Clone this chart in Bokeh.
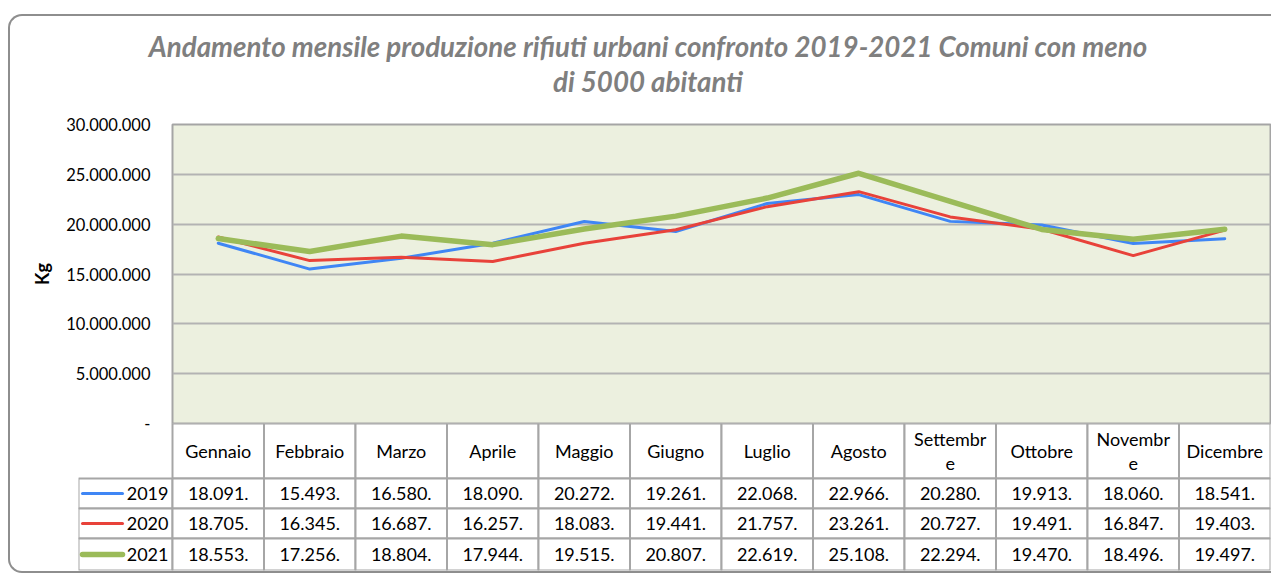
from bokeh.plotting import figure
from bokeh.models import Range1d, FixedTicker, Div
from bokeh.layouts import column
from bokeh.core.properties import value
from bokeh.embed import file_html
from bokeh.resources import INLINE

# ---------------- data ----------------
months = ["Gennaio", "Febbraio", "Marzo", "Aprile", "Maggio", "Giugno",
          "Luglio", "Agosto", "Settembre", "Ottobre", "Novembre", "Dicembre"]
month_labels = ["Gennaio", "Febbraio", "Marzo", "Aprile", "Maggio", "Giugno",
                "Luglio", "Agosto", "Settembr\ne", "Ottobre", "Novembr\ne", "Dicembre"]
years = ["2019", "2020", "2021"]
kg_2019 = [18091000, 15493000, 16580000, 18090000, 20272000, 19261000,
           22068000, 22966000, 20280000, 19913000, 18060000, 18541000]
kg_2020 = [18705000, 16345000, 16687000, 16257000, 18083000, 19441000,
           21757000, 23261000, 20727000, 19491000, 16847000, 19403000]
kg_2021 = [18553000, 17256000, 18804000, 17944000, 19515000, 20807000,
           22619000, 25108000, 22294000, 19470000, 18496000, 19497000]
y_ticks = [0, 5000000, 10000000, 15000000, 20000000, 25000000, 30000000]
y_tick_labels = ["-", "5.000.000", "10.000.000", "15.000.000",
                 "20.000.000", "25.000.000", "30.000.000"]
title_lines = ["Andamento mensile produzione rifiuti urbani confronto 2019-2021 Comuni con meno",
               "di 5000 abitanti"]

series = [kg_2019, kg_2020, kg_2021]
colors = ["#3F86F5", "#E8423A", "#9BBB59"]
widths = [3, 3, 5.5]

FONT = "Lato"
W = 1261
FRAME_LEFT = 162
FRAME_RIGHT = W - 1
CAT_PX = (FRAME_RIGHT - FRAME_LEFT) / len(months)
LEG_LEFT = 68
leg_start = -(FRAME_LEFT - LEG_LEFT) / CAT_PX
OVERLAP = 12

xs = [i + 0.5 for i in range(len(months))]

def fmt_table(v):
    return "{:,}".format(v // 1000).replace(",", ".") + "."

# ---------------- title ----------------
title = Div(
    text=('<div style="margin-left:23px; width:1230px; height:98px; box-sizing:border-box; '
          'padding-top:13px; font-family:Lato; font-weight:bold; '
          'font-style:italic; font-size:27.7px; line-height:35px; color:#7F7F7F; text-align:center;">'
          + title_lines[0] + "<br>" + title_lines[1] + "</div>"),
    width=W, height=98, margin=0)

# ---------------- chart ----------------
top = figure(width=W, height=309 + OVERLAP, x_range=Range1d(0, len(months)),
             y_range=Range1d(0, 30000000),
             x_axis_location=None, output_backend="svg", toolbar_location=None,
             min_border_left=FRAME_LEFT, min_border_right=1, min_border_top=10,
             min_border_bottom=OVERLAP, margin=0)
top.background_fill_color = "#ECF0DF"
top.border_fill_color = "white"
top.outline_line_color = "#A5A5A5"
top.outline_line_width = 2
top.xgrid.visible = False
top.ygrid.ticker = FixedTicker(ticks=y_ticks)
top.ygrid.grid_line_color = "#B3B3B3"
top.ygrid.grid_line_width = 2

ax = top.yaxis[0]
ax.ticker = FixedTicker(ticks=y_ticks)
ax.major_label_overrides = dict(zip(y_ticks, y_tick_labels))
ax.axis_line_color = None
ax.major_tick_line_color = None
ax.minor_tick_line_color = None
ax.major_tick_out = 0
ax.major_tick_in = 0
ax.major_label_standoff = 22
ax.major_label_text_font = FONT
ax.major_label_text_font_size = "16.5px"
ax.major_label_text_color = "black"
ax.axis_label = "Kg"
ax.axis_label_text_font = FONT
ax.axis_label_text_font_size = "18px"
ax.axis_label_text_font_style = "bold"
ax.axis_label_text_color = "black"
ax.axis_label_standoff = 10

for kg, c, w in zip(series, colors, widths):
    top.line(xs, kg, line_color=c, line_width=w, line_join="round", line_cap="round")

# ---------------- data table ----------------
ROW_EDGES = [0, 55, 85, 115, 147]
bot = figure(width=W, height=148, x_range=Range1d(leg_start, len(months)), y_range=Range1d(147, 0),
             x_axis_location=None, y_axis_location=None, output_backend="svg", toolbar_location=None,
             min_border_left=LEG_LEFT, min_border_right=1, min_border_top=0, min_border_bottom=1,
             margin=(-OVERLAP, 0, 0, 0))
bot.grid.visible = False
bot.outline_line_color = None
bot.background_fill_alpha = 0
bot.border_fill_alpha = 0

for fig in (top, bot):
    try:
        fig.frame_align = False
    except Exception:
        pass

GRID_C = "#A6A6A6"
# header cells
bot.quad(left=list(range(len(months))), right=[i + 1 for i in range(len(months))],
         top=[ROW_EDGES[0]] * len(months), bottom=[ROW_EDGES[1]] * len(months),
         fill_color="white", line_color=GRID_C, line_width=2)
# data + legend cells
L, R, T, B = [], [], [], []
for r in range(len(years)):
    for i in range(-1, len(months)):
        L.append(leg_start if i < 0 else i)
        R.append(0 if i < 0 else i + 1)
        T.append(ROW_EDGES[r + 1])
        B.append(ROW_EDGES[r + 2])
bot.quad(left=L, right=R, top=T, bottom=B, fill_color="white", line_color=GRID_C, line_width=2)

bot.text(x=xs, y=[(ROW_EDGES[0] + ROW_EDGES[1]) / 2] * len(months), text=month_labels,
         text_font=value(FONT), text_font_size="18px", text_align="center",
         text_baseline="middle", text_color="black", text_line_height=1.1)

row_centers = [(ROW_EDGES[r + 1] + ROW_EDGES[r + 2]) / 2 for r in range(len(years))]
for r, kg in enumerate(series):
    bot.text(x=xs, y=[row_centers[r]] * len(months), text=[fmt_table(v) for v in kg],
             text_font=value(FONT), text_font_size="18px", text_align="center",
             text_baseline="middle", text_color="black")

seg_x0 = (82 - 172) / CAT_PX
seg_x1 = (122 - 172) / CAT_PX
bot.segment(x0=[seg_x0] * 3, x1=[seg_x1] * 3, y0=row_centers, y1=row_centers,
            line_color=colors, line_width=widths, line_cap="round")
bot.text(x=[-4 / CAT_PX] * 3, y=row_centers, text=years, text_font=value(FONT),
         text_font_size="18px", text_align="right", text_baseline="middle", text_color="black")

layout = column(title, top, bot, margin=(14, 0, 0, 8), styles={
    "border-top": "2px solid #8E8E8E", "border-left": "2px solid #8E8E8E",
    "border-bottom": "2px solid #8E8E8E",
    "border-top-left-radius": "14px", "border-bottom-left-radius": "14px"})

open("out.html", "w").write(file_html(layout, INLINE))
